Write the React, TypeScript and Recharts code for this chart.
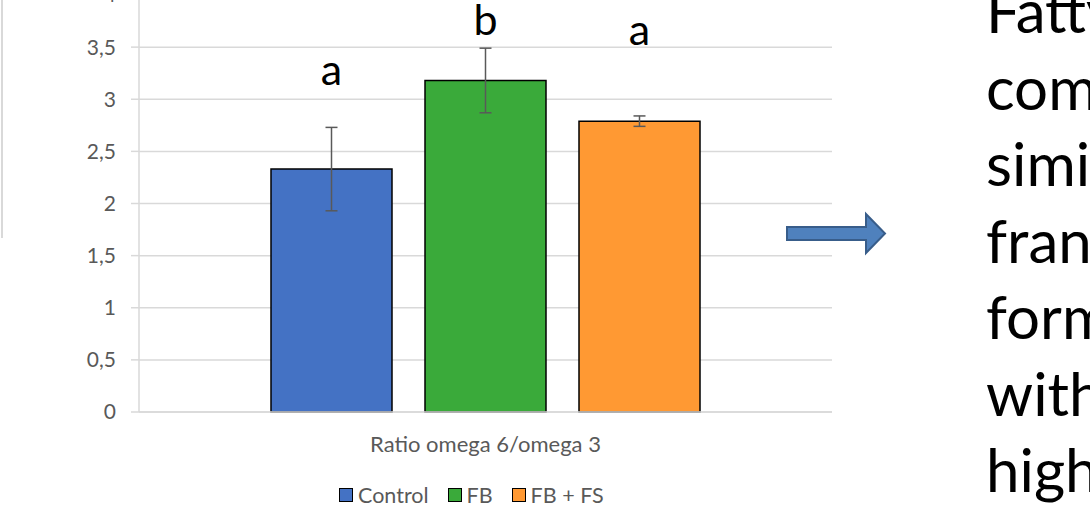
import React from 'react';
import { BarChart, Bar, XAxis, YAxis, CartesianGrid, ErrorBar, Legend, LabelList } from 'recharts';

const FONT = 'Lato, "Open Sans", sans-serif';

// chart values
const categories = ['Ratio omega 6/omega 3'];
const seriesNames = ['Control', 'FB', 'FB + FS'];
const seriesKeys = ['control', 'fb', 'fbfs'];
const seriesColors = ['#4472C4', '#3AAA3A', '#FF9933'];
const meanValues = [2.33, 3.18, 2.79];
const errorValues = [0.4, 0.31, 0.05];
const sigLetters = ['a', 'b', 'a'];
const letterLevels = [3.135, 3.615, 3.52];
const yTicks = [0, 0.5, 1, 1.5, 2, 2.5, 3, 3.5, 4];
const sideText = ['Fatty', 'com', 'simi', 'fran', 'form', 'with', 'high'];

const data = categories.map((name) => {
  const row: any = { name };
  seriesKeys.forEach((k, i) => {
    row[k] = meanValues[i];
    row[k + 'Err'] = errorValues[i];
  });
  return row;
});

const letterLabel = (i: number) => (props: any) => {
  const vb = props.viewBox || props;
  const x = vb.x, y = vb.y, w = vb.width, h = vb.height;
  const v = meanValues[i];
  const pxPerUnit = h / v;
  const ly = y - (letterLevels[i] - v) * pxPerUnit;
  return (
    <text x={x + w / 2} y={ly} textAnchor="middle" fontFamily={FONT} fontSize={43} fill="#000">
      {sigLetters[i]}
    </text>
  );
};

const LegendContent = ({ payload }: any) => (
  <div
    style={{
      display: 'flex', alignItems: 'center', gap: 19, paddingLeft: 339,
      fontFamily: FONT, fontSize: 21.5, color: '#595959', height: 22, lineHeight: '22px',
    }}
  >
    {(payload || []).map((p: any) => (
      <div key={p.value} style={{ display: 'flex', alignItems: 'center', gap: 5 }}>
        <span style={{ width: 12, height: 12, background: p.color, border: '1.5px solid #000', display: 'inline-block' }} />
        <span>{p.value}</span>
      </div>
    ))}
  </div>
);

export default function App() {
  return (
    <div style={{ position: 'absolute', left: 0, top: 0, width: 1090, height: 519, overflow: 'hidden', background: '#fff' }}>
      <div style={{ position: 'absolute', left: 1, top: 0, width: 2, height: 238, background: '#D9D9D9' }} />
      <div style={{ position: 'absolute', left: 0, top: -20 }}>
        <BarChart
          width={1090}
          height={530}
          data={data}
          margin={{ top: 15, right: 258, bottom: 4, left: 0 }}
          barGap={33}
        >
          <CartesianGrid vertical={false} stroke="#D9D9D9" strokeWidth={1.5} />
          <XAxis
            dataKey="name"
            axisLine={{ stroke: '#D9D9D9', strokeWidth: 1.5 }}
            tickLine={false}
            tickSize={0}
            tickMargin={24}
            height={72}
            tick={{ fill: '#595959', fontSize: 22, fontFamily: FONT }}
          />
          <YAxis
            domain={[0, 4]}
            ticks={yTicks}
            interval={0}
            width={139}
            tickFormatter={(v: number) => String(v).replace('.', ',')}
            axisLine={{ stroke: '#D9D9D9', strokeWidth: 1.5 }}
            tickLine={{ stroke: '#D9D9D9', strokeWidth: 1.5 }}
            tickSize={8}
            tickMargin={15}
            tick={{ fill: '#595959', fontSize: 21, fontFamily: FONT }}
          />
          <Legend verticalAlign="bottom" wrapperStyle={{ left: 0 }} content={<LegendContent />} />
          {seriesKeys.map((k, i) => (
            <Bar
              key={k}
              dataKey={k}
              name={seriesNames[i]}
              fill={seriesColors[i]}
              stroke="#000"
              strokeWidth={1.5}
              barSize={121}
              isAnimationActive={false}
            >
              <ErrorBar dataKey={k + 'Err'} width={6} stroke="#595959" strokeWidth={1.5} direction="y" />
              <LabelList dataKey={k} content={letterLabel(i)} />
            </Bar>
          ))}
        </BarChart>
      </div>
      <svg style={{ position: 'absolute', left: 0, top: 0 }} width={1090} height={519}>
        <polygon
          points="787,227 866,227 866,214 885,233.5 866,253 866,240 787,240"
          fill="#4F81BD"
          stroke="#385D8A"
          strokeWidth={2}
        />
        {sideText.map((t, i) => (
          <text key={t} x={986} y={33 + i * 76.5} fontFamily={FONT} fontSize={60} fill="#000">
            {t}
          </text>
        ))}
      </svg>
    </div>
  );
}
